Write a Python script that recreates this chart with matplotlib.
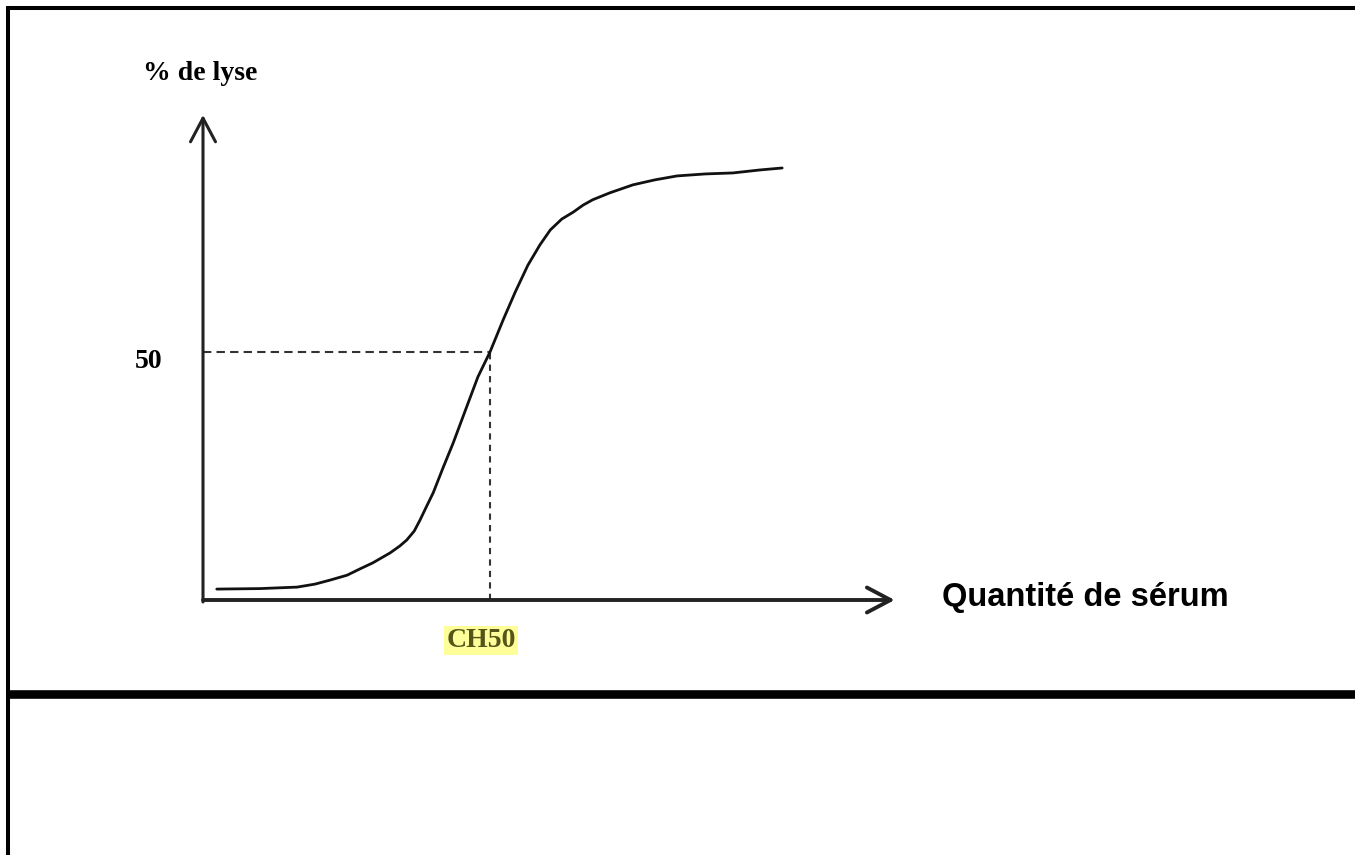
import matplotlib.pyplot as plt
from matplotlib.lines import Line2D

#### DATA ####
# serum quantity in arbitrary units (CH50 sits at 5), % lysis
serum = [0.24, 0.99, 1.64, 1.95, 2.21, 2.51, 2.74, 2.96, 3.26, 3.43, 3.55,
         3.68, 3.78, 3.90, 4.01, 4.18, 4.36, 4.56, 4.79, 5.0, 5.23, 5.44,
         5.66, 5.87, 6.05, 6.25, 6.45, 6.62, 6.79, 7.09, 7.49, 7.87, 8.26,
         8.75, 9.23, 9.70, 10.09]
lyse = [2.2, 2.3, 2.6, 3.2, 4.0, 5.0, 6.3, 7.5, 9.5, 10.9, 12.1,
        13.9, 16.1, 19.0, 21.6, 26.6, 31.7, 37.9, 45.0, 50.0, 56.5, 62.1,
        67.5, 71.6, 74.6, 76.8, 78.2, 79.6, 80.7, 82.1, 83.7, 84.7, 85.5,
        85.9, 86.1, 86.7, 87.1]
ch50 = 5.0
half = 50
x_end = 12.05
y_end = 97.8

W, H = 1355, 855
px_x = 57.4    # pixels per serum unit
px_y = 4.96    # pixels per % lysis
ox, oy = 203, 600  # origin in pixels


def draw():
    fig = plt.figure(figsize=(W / 100, H / 100), dpi=100)
    ax = fig.add_axes([0, 0, 1, 1])
    ax.set_xlim(-ox / px_x, (W - ox) / px_x)
    ax.set_ylim(-(H - oy) / px_y, oy / px_y)
    ax.axis('off')

    # frame of the page
    lk = dict(color='black', solid_capstyle='butt')
    fig.add_artist(Line2D([8 / W, 1], [1 - 8.5 / H] * 2, lw=2.9, **lk))
    fig.add_artist(Line2D([8 / W] * 2, [0, 1 - 6.5 / H], lw=2.9, **lk))
    fig.add_artist(Line2D([8 / W, 1], [1 - 694 / H] * 2, lw=6.2, **lk))

    # axes as arrows
    arr = dict(arrowstyle='->,head_length=0.85,head_width=0.45', mutation_scale=20,
               shrinkA=0, shrinkB=0, color='#222222')
    ax.annotate('', xy=(0, y_end), xytext=(0, -0.4), arrowprops=dict(lw=2.2, **arr))
    ax.annotate('', xy=(x_end, 0), xytext=(0, 0), arrowprops=dict(lw=2.8, **arr))

    # dashed guides
    ax.plot([0, ch50], [half, half], color='#333333', lw=1.5, dashes=(4, 2.5))
    ax.plot([ch50, ch50], [0, half], color='#333333', lw=1.5, dashes=(3, 2.5))

    # curve
    ax.plot(serum, lyse, color='#111111', lw=2.0, solid_capstyle='round',
            solid_joinstyle='round')

    serif = dict(family='Liberation Serif', weight='bold', fontsize=20)
    ax.annotate('% de lyse', xy=(0, y_end), xytext=(-60, 35), textcoords='offset pixels',
                ha='left', va='baseline', **serif)
    ax.annotate('50', xy=(0, half), xytext=(-68, -16), textcoords='offset pixels',
                ha='left', va='baseline', **serif)
    ax.annotate('CH50', xy=(ch50, 0), xytext=(-9, -47), textcoords='offset pixels',
                ha='center', va='baseline', color='#55551a',
                bbox=dict(boxstyle='square,pad=0.08', fc='#ffff99', ec='none'), **serif)
    ax.annotate('Quantité de sérum', xy=(x_end, 0), xytext=(47, -6), textcoords='offset pixels',
                ha='left', va='baseline', family='Liberation Sans', weight='bold', fontsize=23.5)

    fig.savefig('out.png', dpi=100)


if __name__ == "__main__":
    draw()
